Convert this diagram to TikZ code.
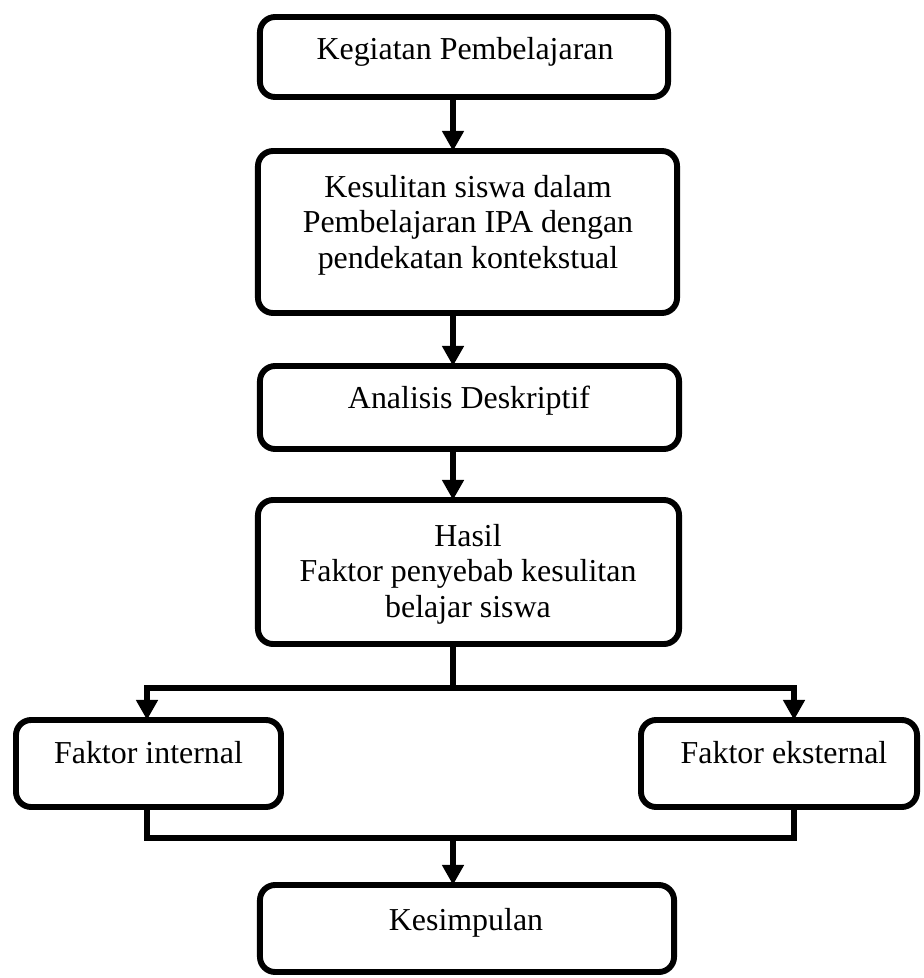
\documentclass[tikz,border=0pt]{standalone}
\usepackage{fontspec}
\setmainfont{Liberation Serif}
\usepackage{tikz}
\usetikzlibrary{arrows.meta,positioning,calc}

\begin{document}
\begin{tikzpicture}[x=0.025cm, y=-0.025cm,
    kotak/.style={draw, line width=4.2pt, rounded corners=0.38cm, outer sep=0pt, inner sep=0pt, minimum height=#1},
    teks/.style={font=\fontsize{22.7}{25.2}\selectfont, align=center, anchor=base, inner sep=0pt},
    panah/.style={line width=3.8pt, -{Triangle[width=0.52cm, length=0.5cm]}},
    garis/.style={line width=3.8pt}]
        \useasboundingbox (0,0) rectangle (923,978);
        \node[kotak=2cm, minimum width=10.2cm] (keg) at (464,57) {};
        \node[kotak=4.05cm, minimum width=10.475cm] (kes) at (467.5,232) {};
        \node[kotak=2.075cm, minimum width=10.475cm] (ana) at (469.5,407.5) {};
        \node[kotak=3.6cm, minimum width=10.525cm] (has) at (468.5,572) {};
        \node[kotak=2.175cm, minimum width=6.625cm] (int) at (148.5,763.5) {};
        \node[kotak=2.175cm, minimum width=6.9cm] (eks) at (779,763.5) {};
        \node[kotak=2.175cm, minimum width=10.35cm] (sim) at (467,928.5) {};
        \node[teks] (tkeg) at (465,60) {Kegiatan Pembelajaran};
        \node[teks] (tkes) at (468,268) {Kesulitan siswa dalam\\Pembelajaran IPA dengan\\pendekatan kontekstual};
        \node[teks] (tana) at (469,408) {Analisis Deskriptif};
        \node[teks] (thas) at (468,617) {Hasil\\Faktor penyebab kesulitan\\belajar siswa};
        \node[teks] (tint) at (148.5,763) {Faktor internal};
        \node[teks] (teks) at (784,763) {Faktor eksternal};
        \node[teks] (tsim) at (466,930) {Kesimpulan};
        \coordinate (sp) at (453,0);
        \coordinate (cabang) at (453,688);
        \coordinate (kiri) at (147,688);
        \coordinate (kanan) at (794,688);
        \coordinate (gabung) at (453,838);
        \draw[panah] (keg.south -| sp) -- (kes.north -| sp);
        \draw[panah] (kes.south -| sp) -- (ana.north -| sp);
        \draw[panah] (ana.south -| sp) -- (has.north -| sp);
        \draw[garis] (has.south -| sp) -- (cabang);
        \draw[panah] (cabang) -- (kiri) -- (kiri |- int.north);
        \draw[panah] (cabang) -- (kanan) -- (kanan |- eks.north);
        \draw[garis] (int.south -| kiri) -- (kiri |- gabung) -- (kanan |- gabung) -- (eks.south -| kanan);
        \draw[panah] (gabung) -- (sim.north -| gabung);
\end{tikzpicture}
\end{document}
